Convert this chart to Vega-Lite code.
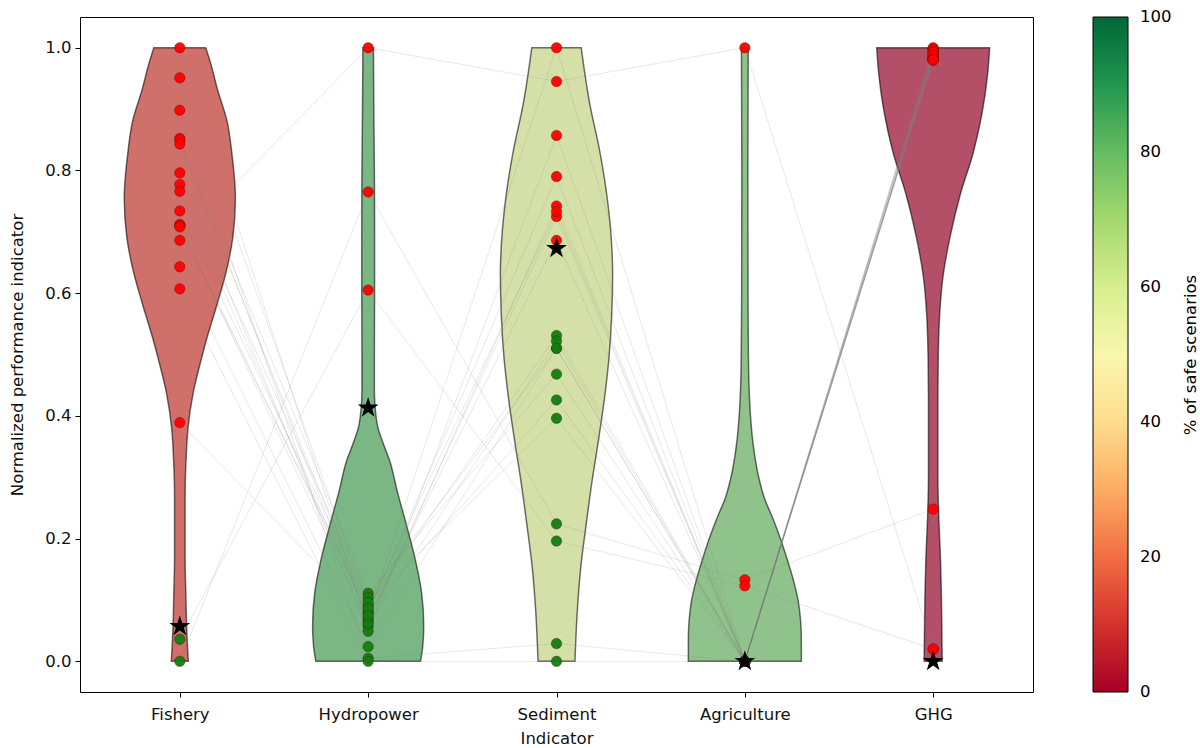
{
  "$schema": "https://vega.github.io/schema/vega-lite/v6.json",
  "width": 953,
  "height": 675,
  "autosize": "none",
  "padding": {"left": 80, "top": 17, "right": 167, "bottom": 56},
  "background": "white",
  "datasets": {
    "violin": [
      {"k": 1, "v": 1.0, "d": 0.138, "safe": 10.5},
      {"k": 1, "v": 0.97, "d": 0.168, "safe": 10.5},
      {"k": 1, "v": 0.934, "d": 0.198, "safe": 10.5},
      {"k": 1, "v": 0.88, "d": 0.251, "safe": 10.5},
      {"k": 1, "v": 0.826, "d": 0.277, "safe": 10.5},
      {"k": 1, "v": 0.755, "d": 0.295, "safe": 10.5},
      {"k": 1, "v": 0.69, "d": 0.281, "safe": 10.5},
      {"k": 1, "v": 0.636, "d": 0.247, "safe": 10.5},
      {"k": 1, "v": 0.582, "d": 0.198, "safe": 10.5},
      {"k": 1, "v": 0.528, "d": 0.145, "safe": 10.5},
      {"k": 1, "v": 0.49, "d": 0.112, "safe": 10.5},
      {"k": 1, "v": 0.436, "d": 0.07, "safe": 10.5},
      {"k": 1, "v": 0.382, "d": 0.044, "safe": 10.5},
      {"k": 1, "v": 0.328, "d": 0.033, "safe": 10.5},
      {"k": 1, "v": 0.27, "d": 0.028, "safe": 10.5},
      {"k": 1, "v": 0.165, "d": 0.028, "safe": 10.5},
      {"k": 1, "v": 0.11, "d": 0.032, "safe": 10.5},
      {"k": 1, "v": 0.057, "d": 0.036, "safe": 10.5},
      {"k": 1, "v": 0.0, "d": 0.045, "safe": 10.5},
      {"k": 2, "v": 1.0, "d": 0.028, "safe": 84.2},
      {"k": 2, "v": 0.9, "d": 0.03, "safe": 84.2},
      {"k": 2, "v": 0.8, "d": 0.033, "safe": 84.2},
      {"k": 2, "v": 0.7, "d": 0.034, "safe": 84.2},
      {"k": 2, "v": 0.6, "d": 0.034, "safe": 84.2},
      {"k": 2, "v": 0.5, "d": 0.033, "safe": 84.2},
      {"k": 2, "v": 0.44, "d": 0.033, "safe": 84.2},
      {"k": 2, "v": 0.41, "d": 0.038, "safe": 84.2},
      {"k": 2, "v": 0.382, "d": 0.051, "safe": 84.2},
      {"k": 2, "v": 0.355, "d": 0.08, "safe": 84.2},
      {"k": 2, "v": 0.328, "d": 0.113, "safe": 84.2},
      {"k": 2, "v": 0.274, "d": 0.157, "safe": 84.2},
      {"k": 2, "v": 0.22, "d": 0.205, "safe": 84.2},
      {"k": 2, "v": 0.166, "d": 0.25, "safe": 84.2},
      {"k": 2, "v": 0.111, "d": 0.284, "safe": 84.2},
      {"k": 2, "v": 0.057, "d": 0.295, "safe": 84.2},
      {"k": 2, "v": 0.025, "d": 0.29, "safe": 84.2},
      {"k": 2, "v": 0.0, "d": 0.278, "safe": 84.2},
      {"k": 3, "v": 1.0, "d": 0.131, "safe": 57.9},
      {"k": 3, "v": 0.906, "d": 0.178, "safe": 57.9},
      {"k": 3, "v": 0.837, "d": 0.226, "safe": 57.9},
      {"k": 3, "v": 0.769, "d": 0.263, "safe": 57.9},
      {"k": 3, "v": 0.7, "d": 0.288, "safe": 57.9},
      {"k": 3, "v": 0.632, "d": 0.298, "safe": 57.9},
      {"k": 3, "v": 0.564, "d": 0.293, "safe": 57.9},
      {"k": 3, "v": 0.496, "d": 0.279, "safe": 57.9},
      {"k": 3, "v": 0.427, "d": 0.254, "safe": 57.9},
      {"k": 3, "v": 0.359, "d": 0.222, "safe": 57.9},
      {"k": 3, "v": 0.29, "d": 0.187, "safe": 57.9},
      {"k": 3, "v": 0.222, "d": 0.157, "safe": 57.9},
      {"k": 3, "v": 0.154, "d": 0.129, "safe": 57.9},
      {"k": 3, "v": 0.085, "d": 0.111, "safe": 57.9},
      {"k": 3, "v": 0.0, "d": 0.098, "safe": 57.9},
      {"k": 4, "v": 1.0, "d": 0.018, "safe": 78.9},
      {"k": 4, "v": 0.8, "d": 0.016, "safe": 78.9},
      {"k": 4, "v": 0.6, "d": 0.017, "safe": 78.9},
      {"k": 4, "v": 0.5, "d": 0.019, "safe": 78.9},
      {"k": 4, "v": 0.45, "d": 0.022, "safe": 78.9},
      {"k": 4, "v": 0.4, "d": 0.03, "safe": 78.9},
      {"k": 4, "v": 0.364, "d": 0.04, "safe": 78.9},
      {"k": 4, "v": 0.33, "d": 0.055, "safe": 78.9},
      {"k": 4, "v": 0.298, "d": 0.075, "safe": 78.9},
      {"k": 4, "v": 0.265, "d": 0.105, "safe": 78.9},
      {"k": 4, "v": 0.232, "d": 0.15, "safe": 78.9},
      {"k": 4, "v": 0.199, "d": 0.19, "safe": 78.9},
      {"k": 4, "v": 0.166, "d": 0.225, "safe": 78.9},
      {"k": 4, "v": 0.132, "d": 0.258, "safe": 78.9},
      {"k": 4, "v": 0.099, "d": 0.283, "safe": 78.9},
      {"k": 4, "v": 0.066, "d": 0.296, "safe": 78.9},
      {"k": 4, "v": 0.033, "d": 0.3, "safe": 78.9},
      {"k": 4, "v": 0.0, "d": 0.3, "safe": 78.9},
      {"k": 5, "v": 1.0, "d": 0.3, "safe": 0},
      {"k": 5, "v": 0.96, "d": 0.29, "safe": 0},
      {"k": 5, "v": 0.894, "d": 0.26, "safe": 0},
      {"k": 5, "v": 0.828, "d": 0.212, "safe": 0},
      {"k": 5, "v": 0.762, "d": 0.145, "safe": 0},
      {"k": 5, "v": 0.695, "d": 0.092, "safe": 0},
      {"k": 5, "v": 0.629, "d": 0.053, "safe": 0},
      {"k": 5, "v": 0.563, "d": 0.034, "safe": 0},
      {"k": 5, "v": 0.497, "d": 0.027, "safe": 0},
      {"k": 5, "v": 0.43, "d": 0.025, "safe": 0},
      {"k": 5, "v": 0.3, "d": 0.025, "safe": 0},
      {"k": 5, "v": 0.232, "d": 0.03, "safe": 0},
      {"k": 5, "v": 0.166, "d": 0.039, "safe": 0},
      {"k": 5, "v": 0.1, "d": 0.044, "safe": 0},
      {"k": 5, "v": 0.0, "d": 0.048, "safe": 0}
    ],
    "scen": [
      {"s": 1, "k": 1, "v": 0.686, "st": "unsafe"}, {"s": 1, "k": 2, "v": 1.0, "st": "unsafe"}, {"s": 1, "k": 3, "v": 0.945, "st": "unsafe"}, {"s": 1, "k": 4, "v": 1.0, "st": "unsafe"}, {"s": 1, "k": 5, "v": 0.02, "st": "unsafe"},
      {"s": 2, "k": 1, "v": 0.0, "st": "safe"}, {"s": 2, "k": 2, "v": 0.765, "st": "unsafe"}, {"s": 2, "k": 3, "v": 0.224, "st": "safe"}, {"s": 2, "k": 4, "v": 0.133, "st": "unsafe"}, {"s": 2, "k": 5, "v": 0.248, "st": "unsafe"},
      {"s": 3, "k": 1, "v": 0.036, "st": "safe"}, {"s": 3, "k": 2, "v": 0.605, "st": "unsafe"}, {"s": 3, "k": 3, "v": 0.196, "st": "safe"}, {"s": 3, "k": 4, "v": 0.123, "st": "unsafe"}, {"s": 3, "k": 5, "v": 0.02, "st": "unsafe"},
      {"s": 4, "k": 1, "v": 1.0, "st": "unsafe"}, {"s": 4, "k": 2, "v": 0.057, "st": "safe"}, {"s": 4, "k": 3, "v": 0.742, "st": "unsafe"}, {"s": 4, "k": 4, "v": 0.0, "st": "safe"}, {"s": 4, "k": 5, "v": 0.99, "st": "unsafe"},
      {"s": 5, "k": 1, "v": 0.951, "st": "unsafe"}, {"s": 5, "k": 2, "v": 0.091, "st": "safe"}, {"s": 5, "k": 3, "v": 0.531, "st": "safe"}, {"s": 5, "k": 4, "v": 0.0, "st": "safe"}, {"s": 5, "k": 5, "v": 0.985, "st": "unsafe"},
      {"s": 6, "k": 1, "v": 0.898, "st": "unsafe"}, {"s": 6, "k": 2, "v": 0.005, "st": "safe"}, {"s": 6, "k": 3, "v": 0.029, "st": "safe"}, {"s": 6, "k": 4, "v": 0.0, "st": "safe"}, {"s": 6, "k": 5, "v": 1.0, "st": "unsafe"},
      {"s": 7, "k": 1, "v": 0.852, "st": "unsafe"}, {"s": 7, "k": 2, "v": 0.111, "st": "safe"}, {"s": 7, "k": 3, "v": 0.468, "st": "safe"}, {"s": 7, "k": 4, "v": 0.0, "st": "safe"}, {"s": 7, "k": 5, "v": 0.98, "st": "unsafe"},
      {"s": 8, "k": 1, "v": 0.85, "st": "unsafe"}, {"s": 8, "k": 2, "v": 0.066, "st": "safe"}, {"s": 8, "k": 3, "v": 0.725, "st": "unsafe"}, {"s": 8, "k": 4, "v": 0.0, "st": "safe"}, {"s": 8, "k": 5, "v": 0.996, "st": "unsafe"},
      {"s": 9, "k": 1, "v": 0.843, "st": "unsafe"}, {"s": 9, "k": 2, "v": 0.082, "st": "safe"}, {"s": 9, "k": 3, "v": 0.426, "st": "safe"}, {"s": 9, "k": 4, "v": 0.0, "st": "safe"}, {"s": 9, "k": 5, "v": 0.984, "st": "unsafe"},
      {"s": 10, "k": 1, "v": 0.796, "st": "unsafe"}, {"s": 10, "k": 2, "v": 0.049, "st": "safe"}, {"s": 10, "k": 3, "v": 0.857, "st": "unsafe"}, {"s": 10, "k": 4, "v": 0.0, "st": "safe"}, {"s": 10, "k": 5, "v": 0.998, "st": "unsafe"},
      {"s": 11, "k": 1, "v": 0.777, "st": "unsafe"}, {"s": 11, "k": 2, "v": 0.104, "st": "safe"}, {"s": 11, "k": 3, "v": 0.51, "st": "safe"}, {"s": 11, "k": 4, "v": 0.0, "st": "safe"}, {"s": 11, "k": 5, "v": 0.981, "st": "unsafe"},
      {"s": 12, "k": 1, "v": 0.766, "st": "unsafe"}, {"s": 12, "k": 2, "v": 0.07, "st": "safe"}, {"s": 12, "k": 3, "v": 0.686, "st": "unsafe"}, {"s": 12, "k": 4, "v": 0.0, "st": "safe"}, {"s": 12, "k": 5, "v": 0.994, "st": "unsafe"},
      {"s": 13, "k": 1, "v": 0.734, "st": "unsafe"}, {"s": 13, "k": 2, "v": 0.096, "st": "safe"}, {"s": 13, "k": 3, "v": 0.396, "st": "safe"}, {"s": 13, "k": 4, "v": 0.0, "st": "safe"}, {"s": 13, "k": 5, "v": 0.983, "st": "unsafe"},
      {"s": 14, "k": 1, "v": 0.712, "st": "unsafe"}, {"s": 14, "k": 2, "v": 0.078, "st": "safe"}, {"s": 14, "k": 3, "v": 0.79, "st": "unsafe"}, {"s": 14, "k": 4, "v": 0.0, "st": "safe"}, {"s": 14, "k": 5, "v": 0.992, "st": "unsafe"},
      {"s": 15, "k": 1, "v": 0.71, "st": "unsafe"}, {"s": 15, "k": 2, "v": 0.062, "st": "safe"}, {"s": 15, "k": 3, "v": 0.522, "st": "safe"}, {"s": 15, "k": 4, "v": 0.0, "st": "safe"}, {"s": 15, "k": 5, "v": 0.986, "st": "unsafe"},
      {"s": 16, "k": 1, "v": 0.708, "st": "unsafe"}, {"s": 16, "k": 2, "v": 0.086, "st": "safe"}, {"s": 16, "k": 3, "v": 0.733, "st": "unsafe"}, {"s": 16, "k": 4, "v": 0.0, "st": "safe"}, {"s": 16, "k": 5, "v": 0.98, "st": "unsafe"},
      {"s": 17, "k": 1, "v": 0.643, "st": "unsafe"}, {"s": 17, "k": 2, "v": 0.024, "st": "safe"}, {"s": 17, "k": 3, "v": 0.51, "st": "safe"}, {"s": 17, "k": 4, "v": 0.0, "st": "safe"}, {"s": 17, "k": 5, "v": 0.988, "st": "unsafe"},
      {"s": 18, "k": 1, "v": 0.607, "st": "unsafe"}, {"s": 18, "k": 2, "v": 0.0, "st": "safe"}, {"s": 18, "k": 3, "v": 0.0, "st": "safe"}, {"s": 18, "k": 4, "v": 0.0, "st": "unsafe"}, {"s": 18, "k": 5, "v": 0.982, "st": "unsafe"},
      {"s": 19, "k": 1, "v": 0.389, "st": "unsafe"}, {"s": 19, "k": 2, "v": 0.074, "st": "safe"}, {"s": 19, "k": 3, "v": 1.0, "st": "unsafe"}, {"s": 19, "k": 4, "v": 0.0, "st": "safe"}, {"s": 19, "k": 5, "v": 0.98, "st": "unsafe"}
    ],
    "stars": [
      {"k": 1, "v": 0.057},
      {"k": 2, "v": 0.413},
      {"k": 3, "v": 0.673},
      {"k": 4, "v": 0.0},
      {"k": 5, "v": 0.0}
    ]
  },
  "encoding": {
    "y": {
      "field": "v",
      "type": "quantitative",
      "scale": {"domain": [-0.05, 1.05], "nice": false, "zero": false},
      "axis": {
        "title": "Normalized performance indicator",
        "values": [0, 0.2, 0.4, 0.6, 0.8, 1.0],
        "format": ".1f",
        "grid": false
      }
    }
  },
  "layer": [
    {
      "data": {"name": "violin"},
      "transform": [
        {"calculate": "datum.k - datum.d", "as": "lo"},
        {"calculate": "datum.k + datum.d", "as": "hi"}
      ],
      "mark": {
        "type": "area",
        "orient": "horizontal",
        "interpolate": "monotone",
        "fill": "#c8c8c8",
        "fillOpacity": 1
      },
      "encoding": {
        "x": {
          "field": "lo",
          "type": "quantitative",
          "scale": {"domain": [0.47, 5.53], "nice": false, "zero": false},
          "axis": {
            "title": "Indicator",
            "values": [1, 2, 3, 4, 5],
            "labelExpr": "['', 'Fishery', 'Hydropower', 'Sediment', 'Agriculture', 'GHG'][datum.value]",
            "grid": false
          }
        },
        "x2": {"field": "hi"},
        "detail": {"field": "k", "type": "nominal"}
      }
    },
    {
      "data": {"name": "violin"},
      "transform": [
        {"calculate": "datum.k - datum.d", "as": "lo"},
        {"calculate": "datum.k + datum.d", "as": "hi"}
      ],
      "mark": {
        "type": "area",
        "orient": "horizontal",
        "interpolate": "monotone",
        "fillOpacity": 0.6,
        "stroke": "black",
        "strokeOpacity": 0.55,
        "strokeWidth": 1.5
      },
      "encoding": {
        "x": {
          "field": "lo",
          "type": "quantitative",
          "axis": {
            "title": "Indicator",
            "values": [1, 2, 3, 4, 5],
            "labelExpr": "['', 'Fishery', 'Hydropower', 'Sediment', 'Agriculture', 'GHG'][datum.value]",
            "grid": false
          }
        },
        "x2": {"field": "hi"},
        "detail": {"field": "k", "type": "nominal"},
        "fill": {
          "field": "safe",
          "type": "quantitative",
          "scale": {"scheme": "redyellowgreen", "domain": [0, 100]},
          "legend": {
            "title": "% of safe scenarios",
            "type": "gradient",
            "direction": "vertical",
            "orient": "right",
            "offset": 60,
            "padding": 0,
            "gradientLength": 675,
            "gradientThickness": 35,
            "gradientStrokeColor": "black",
            "gradientStrokeWidth": 1,
            "values": [0, 20, 40, 60, 80, 100],
            "labelFontSize": 16.5,
            "labelColor": "black",
            "labelBaseline": "middle",
            "labelOffset": 12,
            "titleOrient": "right",
            "titleAnchor": "middle",
            "titleFontSize": 16.5,
            "titleFontWeight": "normal",
            "titleColor": "black",
            "titleAlign": "center",
            "titleBaseline": "top",
            "titlePadding": 12,
            "encode": {
              "title": {"update": {"angle": {"value": -90}}},
              "labels": {"update": {"baseline": {"value": "middle"}}}
            }
          }
        }
      }
    },
    {
      "data": {"name": "scen"},
      "mark": {"type": "line", "color": "#808080", "strokeOpacity": 0.18, "strokeWidth": 1},
      "encoding": {
        "x": {"field": "k", "type": "quantitative"},
        "detail": {"field": "s", "type": "nominal"}
      }
    },
    {
      "data": {"name": "scen"},
      "mark": {"type": "point", "shape": "circle", "filled": true, "size": 110, "opacity": 0.95, "stroke": "#500000", "strokeWidth": 0.6, "strokeOpacity": 0.6},
      "encoding": {
        "x": {"field": "k", "type": "quantitative"},
        "color": {
          "field": "st",
          "type": "nominal",
          "scale": {"domain": ["unsafe", "safe"], "range": ["#ff0000", "#107f10"]},
          "legend": null
        }
      }
    },
    {
      "data": {"name": "stars"},
      "mark": {
        "type": "point",
        "filled": true,
        "color": "black",
        "opacity": 1,
        "size": 480,
        "shape": "M0,-1L0.2245,-0.309L0.951,-0.309L0.3633,0.118L0.5878,0.809L0,0.382L-0.5878,0.809L-0.3633,0.118L-0.951,-0.309L-0.2245,-0.309Z"
      },
      "encoding": {
        "x": {"field": "k", "type": "quantitative"}
      }
    }
  ],
  "config": {
    "font": "DejaVu Sans",
    "view": {"stroke": "black", "strokeWidth": 1},
    "axis": {
      "domain": false,
      "ticks": true,
      "tickColor": "black",
      "tickSize": 5,
      "tickWidth": 1,
      "labelFontSize": 16.5,
      "labelColor": "#111111",
      "labelPadding": 4,
      "titleFontSize": 16.5,
      "titleFontWeight": "normal",
      "titleColor": "#111111"
    },
    "axisX": {"labelPadding": 9, "titlePadding": 8},
    "axisY": {"titlePadding": 19}
  }
}
